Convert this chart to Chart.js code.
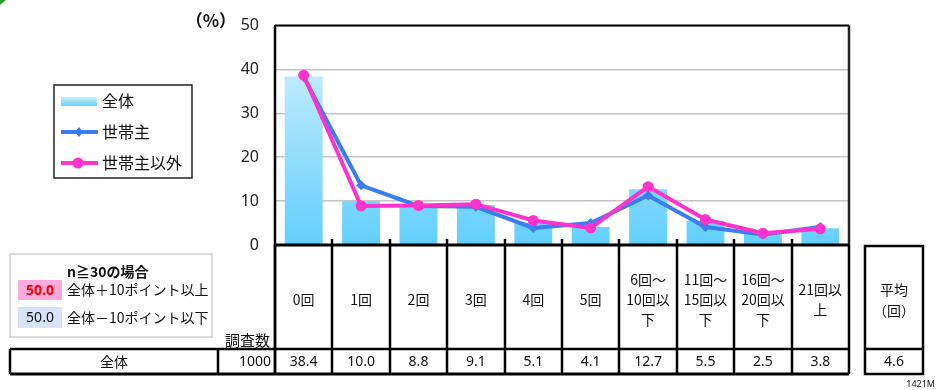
<!DOCTYPE html>
<html>
<head>
<meta charset="utf-8">
<script src="https://cdn.jsdelivr.net/npm/chart.js@4/dist/chart.umd.min.js"></script>
<style>
  html, body { margin: 0; padding: 0; background: #fff; }
  #wrap { width: 938px; height: 390px; position: relative; }
</style>
</head>
<body>
<div id="wrap"><canvas id="chart" width="938" height="390"></canvas></div>
<script>
// --- data ---
const categories = [
  ['0回'], ['1回'], ['2回'], ['3回'], ['4回'], ['5回'],
  ['6回～', '10回以', '下'], ['11回～', '15回以', '下'],
  ['16回～', '20回以', '下'], ['21回以', '上']
];
const allValues = [38.4, 10.0, 8.8, 9.1, 5.1, 4.1, 12.7, 5.5, 2.5, 3.8];   // 全体
const headValues = [38.3, 13.6, 8.9, 8.7, 3.9, 5.0, 11.3, 4.1, 2.4, 4.1];  // 世帯主
const otherValues = [38.7, 8.9, 9.0, 9.3, 5.6, 3.9, 13.3, 5.8, 2.7, 3.7]; // 世帯主以外
const yTicks = [0, 10, 20, 30, 40, 50];
const sampleSize = 1000;
const averageCount = 4.6;

const JP = '"Noto Sans CJK JP", "Noto Sans", sans-serif';
const NUM = '"Noto Sans", sans-serif';
const BLUE = '#3a7df2';
const PINK = '#ff33cc';

// --- table / legend drawn around the plot ---
const tablePlugin = {
  id: 'tablePlugin',
  afterDraw(chart) {
    const ctx = chart.ctx;
    const area = chart.chartArea;
    const xs = chart.scales.x;
    const n = categories.length;
    const colW = (area.right - area.left) / n;
    const rowTop = 349, rowBottom = 374;

    ctx.save();

    // small green mark in the corner
    ctx.fillStyle = '#2e9b2e';
    ctx.beginPath();
    ctx.moveTo(0, 0); ctx.lineTo(6, 0); ctx.lineTo(0, 5); ctx.closePath();
    ctx.fill();

    // plot frame: top and right
    ctx.strokeStyle = '#000';
    ctx.lineWidth = 2;
    ctx.beginPath();
    ctx.moveTo(area.left, area.top); ctx.lineTo(area.right, area.top);
    ctx.stroke();
    ctx.strokeStyle = '#222';
    ctx.lineWidth = 2.5;
    ctx.beginPath();
    ctx.moveTo(area.right, area.top); ctx.lineTo(area.right, area.bottom);
    ctx.stroke();

    // bottom axis
    ctx.strokeStyle = '#000';
    ctx.lineWidth = 3;
    ctx.beginPath();
    ctx.moveTo(area.left, area.bottom); ctx.lineTo(area.right, area.bottom);
    ctx.stroke();

    // column lines + tick marks
    ctx.lineWidth = 2.5;
    for (let i = 0; i <= n; i++) {
      const x = Math.round(area.left + i * colW);
      ctx.beginPath();
      ctx.moveTo(x, i === 0 || i === n ? area.bottom : area.bottom - 6);
      ctx.lineTo(x, rowBottom);
      ctx.stroke();
    }
    // left axis continues through table
    ctx.beginPath();
    ctx.moveTo(area.left, area.top); ctx.lineTo(area.left, rowBottom);
    ctx.stroke();

    // rows
    ctx.lineWidth = 2.5;
    ctx.beginPath();
    ctx.moveTo(10, rowTop); ctx.lineTo(area.right, rowTop);
    ctx.stroke();
    ctx.lineWidth = 3;
    ctx.beginPath();
    ctx.moveTo(10, rowBottom); ctx.lineTo(area.right, rowBottom);
    ctx.stroke();
    ctx.lineWidth = 2.5;
    ctx.beginPath();
    ctx.moveTo(10, rowTop); ctx.lineTo(10, rowBottom);
    ctx.moveTo(218, rowTop); ctx.lineTo(218, rowBottom);
    ctx.stroke();

    // category headers and values
    ctx.fillStyle = '#111';
    ctx.textAlign = 'center';
    ctx.textBaseline = 'middle';
    categories.forEach((lines, i) => {
      const cx = xs.getPixelForValue(i);
      const lh = 20;
      const y0 = 300 - (lines.length - 1) * lh / 2;
      ctx.font = '14px ' + JP;
      lines.forEach((t, k) => ctx.fillText(t, cx, y0 + k * lh));
      ctx.font = '14px ' + NUM;
      ctx.fillText(allValues[i].toFixed(1), cx, 362);
    });

    // left side of the value row
    ctx.font = '14px ' + JP;
    ctx.fillText('全体', 114, 362);
    ctx.textAlign = 'right';
    ctx.font = '14px ' + NUM;
    ctx.fillText(String(sampleSize), 271, 362);
    ctx.font = '15px ' + JP;
    ctx.fillText('調査数', 270, 340);

    // average box
    ctx.strokeStyle = '#000';
    ctx.lineWidth = 2.5;
    ctx.strokeRect(865, 246, 58, rowBottom - 246);
    ctx.beginPath();
    ctx.moveTo(865, rowTop); ctx.lineTo(923, rowTop);
    ctx.stroke();
    ctx.textAlign = 'center';
    ctx.font = '14px ' + JP;
    ctx.fillText('平均', 894, 290);
    ctx.fillText('（回）', 894, 311);
    ctx.font = '14px ' + NUM;
    ctx.fillText(averageCount.toFixed(1), 894, 362);

    // unit label
    ctx.font = 'bold 17px ' + JP;
    ctx.textAlign = 'right';
    ctx.fillText('（%）', 236, 21);

    // note box
    ctx.strokeStyle = '#d0d0d0';
    ctx.lineWidth = 1.5;
    ctx.strokeRect(10, 254, 202, 83);
    ctx.fillStyle = '#ffaadd';
    ctx.fillRect(18, 280, 44, 20);
    ctx.fillStyle = '#d6e3fb';
    ctx.fillRect(18, 307, 44, 21);
    ctx.textAlign = 'center';
    ctx.font = 'bold 14px ' + NUM;
    ctx.fillStyle = '#ff0000';
    ctx.fillText('50.0', 40, 291);
    ctx.font = '14px ' + NUM;
    ctx.fillStyle = '#111';
    ctx.fillText('50.0', 40, 318);
    ctx.textAlign = 'left';
    ctx.font = 'bold 14px ' + JP;
    ctx.fillText('n≧30の場合', 67, 272);
    ctx.font = '14px ' + JP;
    ctx.fillText('全体＋10ポイント以上', 67, 290);
    ctx.fillText('全体－10ポイント以下', 67, 318);

    // series legend
    ctx.strokeStyle = '#222';
    ctx.lineWidth = 1.5;
    ctx.strokeRect(54, 85, 138, 93);
    const g = ctx.createLinearGradient(0, 97, 0, 106);
    g.addColorStop(0, '#c8effd');
    g.addColorStop(1, '#6ad2fc');
    ctx.fillStyle = g;
    ctx.fillRect(61, 97, 36, 9);
    ctx.lineWidth = 4;
    ctx.strokeStyle = BLUE;
    ctx.beginPath(); ctx.moveTo(61, 132); ctx.lineTo(98, 132); ctx.stroke();
    ctx.fillStyle = BLUE;
    ctx.beginPath();
    ctx.moveTo(79, 127); ctx.lineTo(83, 132); ctx.lineTo(79, 137); ctx.lineTo(75, 132);
    ctx.closePath(); ctx.fill();
    ctx.strokeStyle = PINK;
    ctx.beginPath(); ctx.moveTo(61, 163); ctx.lineTo(98, 163); ctx.stroke();
    ctx.fillStyle = PINK;
    ctx.beginPath(); ctx.arc(78, 163, 5.5, 0, Math.PI * 2); ctx.fill();
    ctx.fillStyle = '#111';
    ctx.font = '16px ' + JP;
    ctx.fillText('全体', 102, 101);
    ctx.fillText('世帯主', 102, 132);
    ctx.fillText('世帯主以外', 102, 163);

    // code in the corner
    ctx.textAlign = 'right';
    ctx.font = '9px ' + NUM;
    ctx.fillText('1421M', 935, 384);

    ctx.restore();
  }
};

const ctxChart = document.getElementById('chart').getContext('2d');

function barGradient(context) {
  const area = context.chart.chartArea;
  if (!area) return '#8fdcfc';
  const g = context.chart.ctx.createLinearGradient(0, area.top + 20, 0, area.bottom);
  g.addColorStop(0, '#cdf0fd');
  g.addColorStop(1, '#62cffc');
  return g;
}

new Chart(ctxChart, {
  type: 'bar',
  data: {
    labels: categories.map(c => c.join('')),
    datasets: [
      {
        type: 'line',
        label: '世帯主以外',
        data: otherValues,
        borderColor: PINK,
        backgroundColor: PINK,
        borderWidth: 4,
        pointStyle: 'circle',
        pointRadius: 5.5,
        pointBorderWidth: 0,
        tension: 0,
        order: 0
      },
      {
        type: 'line',
        label: '世帯主',
        data: headValues,
        borderColor: BLUE,
        backgroundColor: BLUE,
        borderWidth: 4,
        pointStyle: 'rectRot',
        pointRadius: 5,
        pointBorderWidth: 0,
        tension: 0,
        order: 1
      },
      {
        label: '全体',
        data: allValues,
        backgroundColor: barGradient,
        categoryPercentage: 1,
        barPercentage: 0.66,
        order: 2
      }
    ]
  },
  options: {
    responsive: false,
    animation: false,
    layout: { padding: { left: 0, top: 20, right: 89, bottom: 145 } },
    plugins: {
      legend: { display: false },
      tooltip: { enabled: false }
    },
    scales: {
      x: { display: false, offset: true },
      y: {
        min: yTicks[0],
        max: yTicks[yTicks.length - 1],
        afterBuildTicks: (scale) => { scale.ticks = yTicks.map(v => ({ value: v })); },
        afterFit: (scale) => { scale.width = 275; },
        grid: { color: '#c4c4c4', lineWidth: 1.5, drawTicks: false },
        border: { color: '#000', width: 2 },
        ticks: {
          padding: 16,
          color: '#222',
          font: { size: 16, family: NUM }
        }
      }
    }
  },
  plugins: [tablePlugin]
});
</script>
</body>
</html>
